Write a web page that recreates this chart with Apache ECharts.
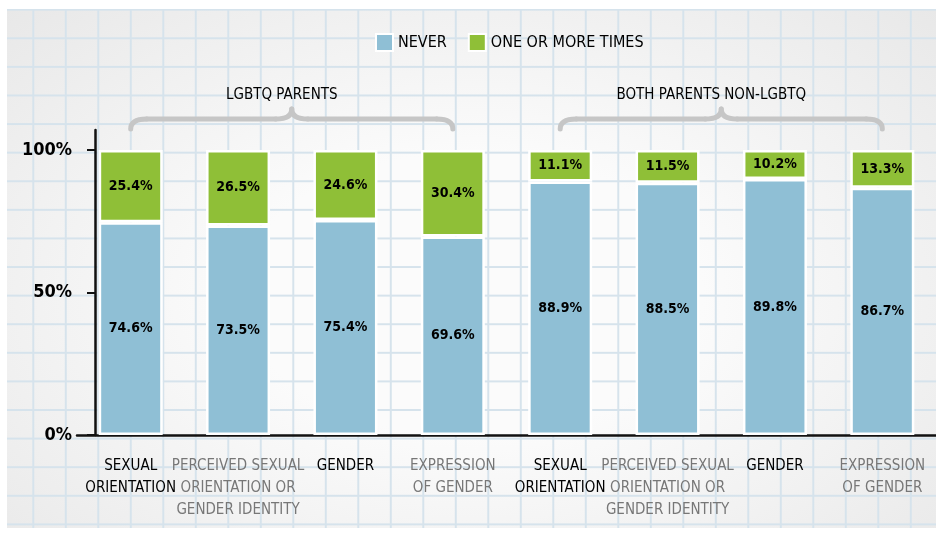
<!DOCTYPE html>
<html>
<head>
<meta charset="utf-8">
<script src="https://cdn.jsdelivr.net/npm/echarts@6/dist/echarts.min.js"></script>
<style>
    html, body { margin: 0; padding: 0; background: #fff; }
    #paper {
        position: absolute; left: 7px; top: 9px; width: 929px; height: 519px;
        background-image:
            linear-gradient(to right, #d6e3ec 1.5px, transparent 1.5px),
            linear-gradient(to bottom, #d6e3ec 1.5px, transparent 1.5px),
            radial-gradient(ellipse at 50% 55%, #fbfbfb 35%, #e8e8e8 100%);
        background-size: 32.5px 28.6px, 32.5px 28.6px, 100% 100%;
        background-position: 25.3px 0, 0 28.3px, 0 0;
    }
    #main { position: absolute; left: 0; top: 0; width: 936px; height: 542px; }
</style>
</head>
<body>
<div id="paper"></div>
<div id="main"></div>
<script>
    // 数据
    var categories = [
        'SEXUAL\nORIENTATION',
        'PERCEIVED SEXUAL\nORIENTATION OR\nGENDER IDENTITY',
        'GENDER',
        'EXPRESSION\nOF GENDER',
        'SEXUAL\nORIENTATION',
        'PERCEIVED SEXUAL\nORIENTATION OR\nGENDER IDENTITY',
        'GENDER',
        'EXPRESSION\nOF GENDER'
    ];
    var never = [74.6, 73.5, 75.4, 69.6, 88.9, 88.5, 89.8, 86.7];
    var oneOrMore = [25.4, 26.5, 24.6, 30.4, 11.1, 11.5, 10.2, 13.3];
    var yTicks = [0, 50, 100];
    var groups = [
        {name: 'LGBTQ PARENTS', from: 0, to: 3},
        {name: 'BOTH PARENTS NON-LGBTQ', from: 4, to: 7}
    ];

    var FONT = "'DejaVu Sans Condensed', 'Liberation Sans Narrow', sans-serif";
    var BLUE = '#8fbfd5';
    var GREEN = '#8fbf37';

    var myChart = echarts.init(document.getElementById('main'));

    var labelStyle = {
        show: true,
        position: 'inside',
        color: '#000',
        fontFamily: FONT,
        fontSize: 14,
        fontWeight: 'bold',
        formatter: function (p) { return p.value + '%'; }
    };

    myChart.setOption({
        animation: false,
        textStyle: {fontFamily: FONT},
        legend: {
            top: 28,
            left: 370,
            itemWidth: 17,
            itemHeight: 17,
            itemGap: 21,
            icon: 'rect',
            textStyle: {fontSize: 16, color: '#000', fontFamily: FONT},
            data: ['NEVER', 'ONE OR MORE TIMES']
        },
        grid: {left: 77, right: -5, top: 130, bottom: 107},
        xAxis: {
            type: 'category',
            data: categories,
            axisLine: {lineStyle: {color: '#111', width: 2.5}},
            axisTick: {show: false},
            axisLabel: {
                interval: 0,
                margin: 20,
                fontSize: 15,
                lineHeight: 22,
                fontFamily: FONT,
                color: function (v, i) { return i % 2 === 0 ? '#000' : '#777'; }
            }
        },
        yAxis: {
            type: 'value',
            min: 0,
            max: 107,
            interval: 50,
            offset: -18,
            axisLine: {show: true, lineStyle: {color: '#111', width: 2.5}},
            axisTick: {show: true, length: 8, lineStyle: {color: '#111', width: 2}},
            splitLine: {show: false},
            axisLabel: {
                margin: 23,
                fontSize: 18,
                fontWeight: 'bold',
                color: '#000',
                fontFamily: FONT,
                showMaxLabel: false,
                formatter: function (v) { return yTicks.indexOf(v) >= 0 ? v + '%' : ''; }
            }
        },
        series: [
            {
                name: 'NEVER',
                type: 'bar',
                stack: 'total',
                barWidth: 64,
                itemStyle: {color: BLUE, borderColor: '#fff', borderWidth: 2.5},
                label: labelStyle,
                data: never
            },
            {
                name: 'ONE OR MORE TIMES',
                type: 'bar',
                stack: 'total',
                barWidth: 64,
                itemStyle: {color: GREEN, borderColor: '#fff', borderWidth: 2.5},
                label: labelStyle,
                data: oneOrMore
            }
        ]
    });

    // 大括号 + 分组标题
    var braceStyle = {stroke: '#c6c6c6', lineWidth: 5, lineCap: 'round', fill: null};
    function brace(x1, x2, y) {
        var xm = (x1 + x2) / 2;
        var r = 16;
        return [
            {type: 'bezierCurve', shape: {x1: x1, y1: y + 10, cpx1: x1, cpy1: y, x2: x1 + r, y2: y}, style: braceStyle},
            {type: 'line', shape: {x1: x1 + r, y1: y, x2: xm - r, y2: y}, style: braceStyle},
            {type: 'bezierCurve', shape: {x1: xm - r, y1: y, cpx1: xm, cpy1: y, x2: xm, y2: y - 10}, style: braceStyle},
            {type: 'bezierCurve', shape: {x1: xm, y1: y - 10, cpx1: xm, cpy1: y, x2: xm + r, y2: y}, style: braceStyle},
            {type: 'line', shape: {x1: xm + r, y1: y, x2: x2 - r, y2: y}, style: braceStyle},
            {type: 'bezierCurve', shape: {x1: x2 - r, y1: y, cpx1: x2, cpy1: y, x2: x2, y2: y + 10}, style: braceStyle}
        ];
    }

    var graphics = [];
    groups.forEach(function (g) {
        var x1 = myChart.convertToPixel({xAxisIndex: 0}, g.from);
        var x2 = myChart.convertToPixel({xAxisIndex: 0}, g.to);
        graphics = graphics.concat(brace(x1, x2, 119));
        graphics.push({
            type: 'text',
            x: (x1 + x2) / 2 - 10,
            y: 95,
            style: {
                text: g.name,
                fill: '#000',
                font: '15px ' + FONT,
                textAlign: 'center',
                textVerticalAlign: 'middle'
            }
        });
    });
    myChart.setOption({graphic: graphics});
</script>
</body>
</html>
